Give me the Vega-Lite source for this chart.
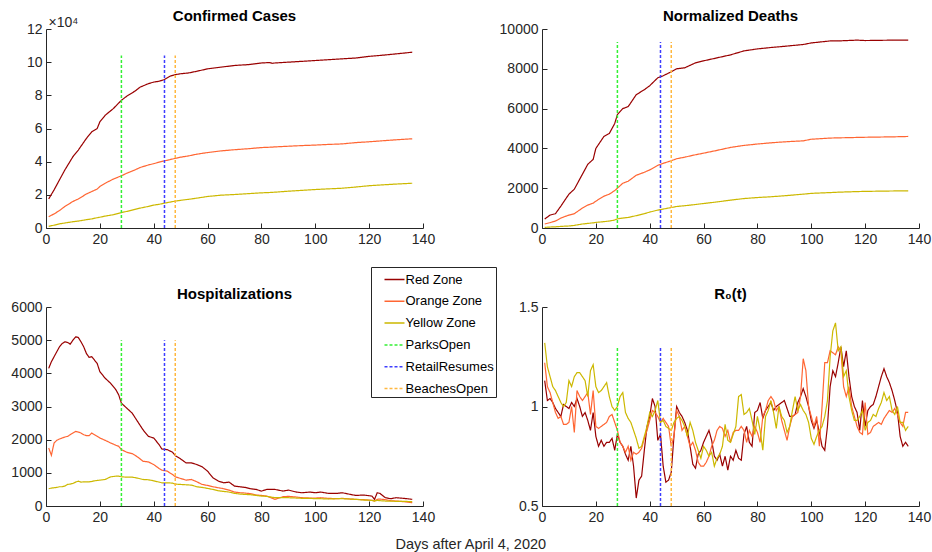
{
"$schema":"https://vega.github.io/schema/vega-lite/v6.json",
"padding":{"left":10,"right":2,"top":9,"bottom":0},
"config":{
 "font":"Liberation Sans",
 "view":{"stroke":null},
 "axis":{"grid":false,"domainColor":"#262626","tickColor":"#262626","labelColor":"#262626","labelFontSize":14,"tickSize":-5,"labelPadding":9,"domainWidth":1,"tickWidth":1,"labelOverlap":false,"labelFlush":false},
 "title":{"fontSize":15,"fontWeight":"bold","color":"#000000","offset":-2},
 "legend":{"orient":"none","legendX":325,"legendY":238,"strokeColor":"#262626","fillColor":"#ffffff","padding":1.5,"symbolOffset":11,"symbolType":"stroke","symbolSize":400,"symbolStrokeWidth":1.5,"labelFontSize":13,"labelColor":"#000000","labelOffset":0,"rowPadding":3.8,"cornerRadius":0}
},
"datasets":{
"cc":[
{"d":1,"Red Zone":17500,"Orange Zone":6800,"Yellow Zone":1000},
{"d":3,"Red Zone":23000,"Orange Zone":8500,"Yellow Zone":1700},
{"d":5,"Red Zone":29000,"Orange Zone":10500,"Yellow Zone":2500},
{"d":7,"Red Zone":35000,"Orange Zone":13000,"Yellow Zone":3000},
{"d":10,"Red Zone":43000,"Orange Zone":16000,"Yellow Zone":3800},
{"d":12,"Red Zone":47000,"Orange Zone":17500,"Yellow Zone":4200},
{"d":15,"Red Zone":54000,"Orange Zone":20500,"Yellow Zone":5000},
{"d":17,"Red Zone":58000,"Orange Zone":22000,"Yellow Zone":5500},
{"d":19,"Red Zone":60000,"Orange Zone":23500,"Yellow Zone":6200},
{"d":20,"Red Zone":64000,"Orange Zone":25000,"Yellow Zone":6500},
{"d":22,"Red Zone":68000,"Orange Zone":27000,"Yellow Zone":7200},
{"d":25,"Red Zone":72000,"Orange Zone":29500,"Yellow Zone":8000},
{"d":28,"Red Zone":77000,"Orange Zone":31500,"Yellow Zone":9300},
{"d":30,"Red Zone":79500,"Orange Zone":33000,"Yellow Zone":10000},
{"d":33,"Red Zone":82500,"Orange Zone":35000,"Yellow Zone":11200},
{"d":35,"Red Zone":85000,"Orange Zone":36500,"Yellow Zone":12000},
{"d":38,"Red Zone":87000,"Orange Zone":38000,"Yellow Zone":13000},
{"d":40,"Red Zone":88000,"Orange Zone":38800,"Yellow Zone":13800},
{"d":42,"Red Zone":88500,"Orange Zone":39700,"Yellow Zone":14300},
{"d":44,"Red Zone":89500,"Orange Zone":40500,"Yellow Zone":15000},
{"d":46,"Red Zone":91500,"Orange Zone":41200,"Yellow Zone":15600},
{"d":48,"Red Zone":92500,"Orange Zone":42000,"Yellow Zone":16200},
{"d":50,"Red Zone":93000,"Orange Zone":42700,"Yellow Zone":16700},
{"d":53,"Red Zone":93500,"Orange Zone":43500,"Yellow Zone":17300},
{"d":56,"Red Zone":94500,"Orange Zone":44500,"Yellow Zone":18000},
{"d":60,"Red Zone":96000,"Orange Zone":45500,"Yellow Zone":19000},
{"d":65,"Red Zone":97000,"Orange Zone":46500,"Yellow Zone":19800},
{"d":70,"Red Zone":98000,"Orange Zone":47200,"Yellow Zone":20200},
{"d":75,"Red Zone":98500,"Orange Zone":47800,"Yellow Zone":20700},
{"d":80,"Red Zone":99500,"Orange Zone":48500,"Yellow Zone":21200},
{"d":83,"Red Zone":99800,"Orange Zone":48700,"Yellow Zone":21400},
{"d":84,"Red Zone":99300,"Orange Zone":48800,"Yellow Zone":21500},
{"d":85,"Red Zone":99500,"Orange Zone":48900,"Yellow Zone":21600},
{"d":90,"Red Zone":100000,"Orange Zone":49300,"Yellow Zone":22200},
{"d":95,"Red Zone":100500,"Orange Zone":49700,"Yellow Zone":22700},
{"d":100,"Red Zone":101000,"Orange Zone":50000,"Yellow Zone":23200},
{"d":105,"Red Zone":101500,"Orange Zone":50400,"Yellow Zone":23600},
{"d":110,"Red Zone":102000,"Orange Zone":50700,"Yellow Zone":24000},
{"d":115,"Red Zone":102500,"Orange Zone":51500,"Yellow Zone":24700},
{"d":120,"Red Zone":103500,"Orange Zone":52000,"Yellow Zone":25500},
{"d":125,"Red Zone":104200,"Orange Zone":52600,"Yellow Zone":26000},
{"d":130,"Red Zone":105000,"Orange Zone":53200,"Yellow Zone":26500},
{"d":136,"Red Zone":106000,"Orange Zone":53800,"Yellow Zone":27000}
],
"nd":[
{"d":1,"Red Zone":450,"Orange Zone":200,"Yellow Zone":30},
{"d":3,"Red Zone":650,"Orange Zone":270,"Yellow Zone":50},
{"d":5,"Red Zone":720,"Orange Zone":350,"Yellow Zone":60},
{"d":7,"Red Zone":1100,"Orange Zone":500,"Yellow Zone":80},
{"d":10,"Red Zone":1700,"Orange Zone":650,"Yellow Zone":100},
{"d":12,"Red Zone":1950,"Orange Zone":720,"Yellow Zone":130},
{"d":15,"Red Zone":2700,"Orange Zone":1000,"Yellow Zone":200},
{"d":17,"Red Zone":3200,"Orange Zone":1150,"Yellow Zone":230},
{"d":19,"Red Zone":3450,"Orange Zone":1250,"Yellow Zone":260},
{"d":20,"Red Zone":4000,"Orange Zone":1350,"Yellow Zone":280},
{"d":23,"Red Zone":4600,"Orange Zone":1600,"Yellow Zone":320},
{"d":25,"Red Zone":4750,"Orange Zone":1700,"Yellow Zone":350},
{"d":27,"Red Zone":5250,"Orange Zone":1880,"Yellow Zone":400},
{"d":28,"Red Zone":5700,"Orange Zone":2000,"Yellow Zone":460},
{"d":30,"Red Zone":6000,"Orange Zone":2250,"Yellow Zone":500},
{"d":32,"Red Zone":6100,"Orange Zone":2350,"Yellow Zone":530},
{"d":35,"Red Zone":6700,"Orange Zone":2650,"Yellow Zone":620},
{"d":38,"Red Zone":6950,"Orange Zone":2800,"Yellow Zone":720},
{"d":40,"Red Zone":7150,"Orange Zone":2920,"Yellow Zone":800},
{"d":43,"Red Zone":7550,"Orange Zone":3150,"Yellow Zone":900},
{"d":45,"Red Zone":7650,"Orange Zone":3250,"Yellow Zone":950},
{"d":48,"Red Zone":7850,"Orange Zone":3380,"Yellow Zone":1030},
{"d":50,"Red Zone":8000,"Orange Zone":3480,"Yellow Zone":1080},
{"d":53,"Red Zone":8050,"Orange Zone":3560,"Yellow Zone":1120},
{"d":57,"Red Zone":8300,"Orange Zone":3680,"Yellow Zone":1180},
{"d":60,"Red Zone":8400,"Orange Zone":3760,"Yellow Zone":1230},
{"d":65,"Red Zone":8550,"Orange Zone":3900,"Yellow Zone":1310},
{"d":70,"Red Zone":8700,"Orange Zone":4050,"Yellow Zone":1400},
{"d":75,"Red Zone":8900,"Orange Zone":4150,"Yellow Zone":1480},
{"d":80,"Red Zone":9000,"Orange Zone":4220,"Yellow Zone":1530},
{"d":85,"Red Zone":9070,"Orange Zone":4280,"Yellow Zone":1570},
{"d":90,"Red Zone":9130,"Orange Zone":4330,"Yellow Zone":1620},
{"d":97,"Red Zone":9220,"Orange Zone":4380,"Yellow Zone":1700},
{"d":100,"Red Zone":9300,"Orange Zone":4460,"Yellow Zone":1740},
{"d":107,"Red Zone":9400,"Orange Zone":4520,"Yellow Zone":1780},
{"d":110,"Red Zone":9400,"Orange Zone":4530,"Yellow Zone":1800},
{"d":117,"Red Zone":9440,"Orange Zone":4550,"Yellow Zone":1830},
{"d":120,"Red Zone":9420,"Orange Zone":4560,"Yellow Zone":1840},
{"d":130,"Red Zone":9440,"Orange Zone":4580,"Yellow Zone":1860},
{"d":136,"Red Zone":9440,"Orange Zone":4600,"Yellow Zone":1870}
],
"hp":[
{"d":1,"Red Zone":4150,"Orange Zone":1750,"Yellow Zone":520},
{"d":2,"Red Zone":4350,"Orange Zone":1530,"Yellow Zone":540},
{"d":3,"Red Zone":4500,"Orange Zone":1900,"Yellow Zone":550},
{"d":4,"Red Zone":4650,"Orange Zone":1980,"Yellow Zone":560},
{"d":5,"Red Zone":4800,"Orange Zone":2020,"Yellow Zone":580},
{"d":6,"Red Zone":4900,"Orange Zone":2050,"Yellow Zone":580},
{"d":7,"Red Zone":4950,"Orange Zone":2080,"Yellow Zone":600},
{"d":8,"Red Zone":4930,"Orange Zone":2100,"Yellow Zone":650},
{"d":9,"Red Zone":4880,"Orange Zone":2150,"Yellow Zone":660},
{"d":10,"Red Zone":5000,"Orange Zone":2200,"Yellow Zone":680},
{"d":11,"Red Zone":5100,"Orange Zone":2250,"Yellow Zone":720},
{"d":12,"Red Zone":5080,"Orange Zone":2230,"Yellow Zone":750},
{"d":13,"Red Zone":4950,"Orange Zone":2200,"Yellow Zone":720},
{"d":14,"Red Zone":4800,"Orange Zone":2150,"Yellow Zone":730},
{"d":15,"Red Zone":4600,"Orange Zone":2120,"Yellow Zone":730},
{"d":16,"Red Zone":4480,"Orange Zone":2120,"Yellow Zone":730},
{"d":17,"Red Zone":4500,"Orange Zone":2200,"Yellow Zone":740},
{"d":18,"Red Zone":4400,"Orange Zone":2150,"Yellow Zone":760},
{"d":19,"Red Zone":4300,"Orange Zone":2100,"Yellow Zone":770},
{"d":20,"Red Zone":4050,"Orange Zone":2050,"Yellow Zone":780},
{"d":22,"Red Zone":3850,"Orange Zone":1980,"Yellow Zone":800},
{"d":24,"Red Zone":3700,"Orange Zone":1900,"Yellow Zone":880},
{"d":26,"Red Zone":3500,"Orange Zone":1830,"Yellow Zone":900},
{"d":27,"Red Zone":3350,"Orange Zone":1800,"Yellow Zone":900},
{"d":28,"Red Zone":3100,"Orange Zone":1700,"Yellow Zone":880},
{"d":30,"Red Zone":2950,"Orange Zone":1620,"Yellow Zone":870},
{"d":32,"Red Zone":2800,"Orange Zone":1580,"Yellow Zone":870},
{"d":34,"Red Zone":2550,"Orange Zone":1480,"Yellow Zone":840},
{"d":36,"Red Zone":2300,"Orange Zone":1350,"Yellow Zone":800},
{"d":38,"Red Zone":2100,"Orange Zone":1330,"Yellow Zone":790},
{"d":40,"Red Zone":2050,"Orange Zone":1250,"Yellow Zone":760},
{"d":42,"Red Zone":1850,"Orange Zone":1130,"Yellow Zone":720},
{"d":43,"Red Zone":1720,"Orange Zone":1080,"Yellow Zone":700},
{"d":45,"Red Zone":1700,"Orange Zone":1050,"Yellow Zone":700},
{"d":47,"Red Zone":1620,"Orange Zone":950,"Yellow Zone":690},
{"d":48,"Red Zone":1520,"Orange Zone":880,"Yellow Zone":660},
{"d":50,"Red Zone":1420,"Orange Zone":830,"Yellow Zone":650},
{"d":52,"Red Zone":1300,"Orange Zone":780,"Yellow Zone":640},
{"d":54,"Red Zone":1300,"Orange Zone":800,"Yellow Zone":630},
{"d":56,"Red Zone":1250,"Orange Zone":730,"Yellow Zone":580},
{"d":58,"Red Zone":1180,"Orange Zone":650,"Yellow Zone":560},
{"d":60,"Red Zone":1050,"Orange Zone":620,"Yellow Zone":530},
{"d":62,"Red Zone":850,"Orange Zone":580,"Yellow Zone":500},
{"d":64,"Red Zone":750,"Orange Zone":550,"Yellow Zone":460},
{"d":66,"Red Zone":700,"Orange Zone":520,"Yellow Zone":440},
{"d":68,"Red Zone":720,"Orange Zone":480,"Yellow Zone":420},
{"d":70,"Red Zone":600,"Orange Zone":420,"Yellow Zone":380},
{"d":72,"Red Zone":580,"Orange Zone":400,"Yellow Zone":360},
{"d":74,"Red Zone":560,"Orange Zone":390,"Yellow Zone":350},
{"d":76,"Red Zone":520,"Orange Zone":370,"Yellow Zone":340},
{"d":78,"Red Zone":500,"Orange Zone":330,"Yellow Zone":320},
{"d":80,"Red Zone":450,"Orange Zone":320,"Yellow Zone":300},
{"d":82,"Red Zone":500,"Orange Zone":300,"Yellow Zone":290},
{"d":85,"Red Zone":500,"Orange Zone":200,"Yellow Zone":250},
{"d":88,"Red Zone":450,"Orange Zone":280,"Yellow Zone":250},
{"d":90,"Red Zone":480,"Orange Zone":290,"Yellow Zone":250},
{"d":93,"Red Zone":420,"Orange Zone":270,"Yellow Zone":240},
{"d":95,"Red Zone":400,"Orange Zone":250,"Yellow Zone":230},
{"d":98,"Red Zone":420,"Orange Zone":240,"Yellow Zone":230},
{"d":100,"Red Zone":400,"Orange Zone":240,"Yellow Zone":220},
{"d":102,"Red Zone":420,"Orange Zone":250,"Yellow Zone":220},
{"d":105,"Red Zone":380,"Orange Zone":230,"Yellow Zone":210},
{"d":108,"Red Zone":380,"Orange Zone":220,"Yellow Zone":220},
{"d":110,"Red Zone":400,"Orange Zone":230,"Yellow Zone":220},
{"d":113,"Red Zone":350,"Orange Zone":210,"Yellow Zone":210},
{"d":115,"Red Zone":320,"Orange Zone":200,"Yellow Zone":200},
{"d":118,"Red Zone":330,"Orange Zone":190,"Yellow Zone":180},
{"d":121,"Red Zone":300,"Orange Zone":170,"Yellow Zone":170},
{"d":122,"Red Zone":200,"Orange Zone":150,"Yellow Zone":150},
{"d":123,"Red Zone":400,"Orange Zone":200,"Yellow Zone":170},
{"d":124,"Red Zone":380,"Orange Zone":210,"Yellow Zone":160},
{"d":126,"Red Zone":250,"Orange Zone":190,"Yellow Zone":150},
{"d":128,"Red Zone":220,"Orange Zone":160,"Yellow Zone":150},
{"d":130,"Red Zone":250,"Orange Zone":150,"Yellow Zone":140},
{"d":133,"Red Zone":230,"Orange Zone":130,"Yellow Zone":140},
{"d":136,"Red Zone":200,"Orange Zone":100,"Yellow Zone":130}
],
"r0":[
{"d":1,"Red Zone":1.13,"Orange Zone":1.22,"Yellow Zone":1.32},
{"d":2,"Red Zone":1.03,"Orange Zone":1.10,"Yellow Zone":1.20},
{"d":3,"Red Zone":1.04,"Orange Zone":1.07,"Yellow Zone":1.15},
{"d":4,"Red Zone":1.02,"Orange Zone":1.02,"Yellow Zone":1.10},
{"d":5,"Red Zone":0.99,"Orange Zone":0.97,"Yellow Zone":1.08},
{"d":6,"Red Zone":0.97,"Orange Zone":0.94,"Yellow Zone":1.05},
{"d":7,"Red Zone":0.95,"Orange Zone":0.95,"Yellow Zone":1.02},
{"d":8,"Red Zone":1.01,"Orange Zone":0.91,"Yellow Zone":1.00},
{"d":9,"Red Zone":1.00,"Orange Zone":0.91,"Yellow Zone":1.02},
{"d":10,"Red Zone":0.99,"Orange Zone":0.92,"Yellow Zone":1.13},
{"d":11,"Red Zone":1.02,"Orange Zone":1.00,"Yellow Zone":1.10},
{"d":12,"Red Zone":1.00,"Orange Zone":0.87,"Yellow Zone":1.15},
{"d":13,"Red Zone":1.04,"Orange Zone":1.08,"Yellow Zone":1.17},
{"d":14,"Red Zone":1.00,"Orange Zone":1.05,"Yellow Zone":1.17},
{"d":15,"Red Zone":0.95,"Orange Zone":1.03,"Yellow Zone":1.15},
{"d":16,"Red Zone":0.97,"Orange Zone":1.05,"Yellow Zone":1.13},
{"d":17,"Red Zone":0.93,"Orange Zone":1.07,"Yellow Zone":1.05},
{"d":18,"Red Zone":0.88,"Orange Zone":0.96,"Yellow Zone":1.18},
{"d":19,"Red Zone":0.97,"Orange Zone":1.08,"Yellow Zone":1.21},
{"d":20,"Red Zone":0.85,"Orange Zone":0.90,"Yellow Zone":1.10},
{"d":21,"Red Zone":0.80,"Orange Zone":0.89,"Yellow Zone":1.07},
{"d":22,"Red Zone":0.83,"Orange Zone":0.90,"Yellow Zone":1.08},
{"d":23,"Red Zone":0.80,"Orange Zone":0.91,"Yellow Zone":1.10},
{"d":24,"Red Zone":0.82,"Orange Zone":0.92,"Yellow Zone":1.12},
{"d":25,"Red Zone":0.82,"Orange Zone":0.95,"Yellow Zone":1.05},
{"d":26,"Red Zone":0.84,"Orange Zone":0.96,"Yellow Zone":1.00},
{"d":27,"Red Zone":0.78,"Orange Zone":0.92,"Yellow Zone":0.98},
{"d":28,"Red Zone":0.86,"Orange Zone":0.88,"Yellow Zone":1.00},
{"d":29,"Red Zone":0.82,"Orange Zone":0.82,"Yellow Zone":1.05},
{"d":30,"Red Zone":0.80,"Orange Zone":0.80,"Yellow Zone":1.07},
{"d":31,"Red Zone":0.76,"Orange Zone":0.77,"Yellow Zone":0.97},
{"d":32,"Red Zone":0.73,"Orange Zone":0.80,"Yellow Zone":0.94},
{"d":33,"Red Zone":0.80,"Orange Zone":0.73,"Yellow Zone":0.92},
{"d":34,"Red Zone":0.70,"Orange Zone":0.77,"Yellow Zone":0.88},
{"d":35,"Red Zone":0.54,"Orange Zone":0.76,"Yellow Zone":0.84},
{"d":36,"Red Zone":0.63,"Orange Zone":0.77,"Yellow Zone":0.79},
{"d":37,"Red Zone":0.65,"Orange Zone":0.79,"Yellow Zone":0.80},
{"d":38,"Red Zone":0.78,"Orange Zone":0.84,"Yellow Zone":0.85},
{"d":39,"Red Zone":0.90,"Orange Zone":0.88,"Yellow Zone":0.90},
{"d":40,"Red Zone":0.95,"Orange Zone":0.93,"Yellow Zone":0.97},
{"d":41,"Red Zone":1.04,"Orange Zone":0.98,"Yellow Zone":0.95},
{"d":42,"Red Zone":1.00,"Orange Zone":0.97,"Yellow Zone":0.98},
{"d":43,"Red Zone":0.83,"Orange Zone":0.95,"Yellow Zone":1.03},
{"d":44,"Red Zone":0.86,"Orange Zone":0.92,"Yellow Zone":0.92},
{"d":45,"Red Zone":0.70,"Orange Zone":0.94,"Yellow Zone":0.93},
{"d":46,"Red Zone":0.62,"Orange Zone":0.92,"Yellow Zone":0.90},
{"d":47,"Red Zone":0.63,"Orange Zone":0.90,"Yellow Zone":0.89},
{"d":48,"Red Zone":0.67,"Orange Zone":0.80,"Yellow Zone":0.88},
{"d":49,"Red Zone":0.85,"Orange Zone":0.85,"Yellow Zone":0.92},
{"d":50,"Red Zone":1.00,"Orange Zone":0.98,"Yellow Zone":0.94},
{"d":51,"Red Zone":0.97,"Orange Zone":0.95,"Yellow Zone":0.95},
{"d":52,"Red Zone":0.95,"Orange Zone":0.88,"Yellow Zone":0.93},
{"d":53,"Red Zone":0.92,"Orange Zone":0.90,"Yellow Zone":0.90},
{"d":54,"Red Zone":0.88,"Orange Zone":0.85,"Yellow Zone":0.85},
{"d":55,"Red Zone":0.80,"Orange Zone":0.80,"Yellow Zone":0.92},
{"d":56,"Red Zone":0.71,"Orange Zone":0.82,"Yellow Zone":0.88},
{"d":57,"Red Zone":0.69,"Orange Zone":0.78,"Yellow Zone":0.82},
{"d":58,"Red Zone":0.76,"Orange Zone":0.72,"Yellow Zone":0.78},
{"d":59,"Red Zone":0.78,"Orange Zone":0.70,"Yellow Zone":0.74},
{"d":60,"Red Zone":0.82,"Orange Zone":0.70,"Yellow Zone":0.80},
{"d":61,"Red Zone":0.85,"Orange Zone":0.72,"Yellow Zone":0.78},
{"d":62,"Red Zone":0.88,"Orange Zone":0.75,"Yellow Zone":0.75},
{"d":63,"Red Zone":0.83,"Orange Zone":0.80,"Yellow Zone":0.77},
{"d":64,"Red Zone":0.75,"Orange Zone":0.83,"Yellow Zone":0.70},
{"d":65,"Red Zone":0.73,"Orange Zone":0.88,"Yellow Zone":0.74},
{"d":66,"Red Zone":0.76,"Orange Zone":0.90,"Yellow Zone":0.76},
{"d":67,"Red Zone":0.70,"Orange Zone":0.89,"Yellow Zone":0.80},
{"d":68,"Red Zone":0.75,"Orange Zone":0.85,"Yellow Zone":0.91},
{"d":69,"Red Zone":0.68,"Orange Zone":0.88,"Yellow Zone":0.83},
{"d":70,"Red Zone":0.75,"Orange Zone":0.82,"Yellow Zone":0.82},
{"d":71,"Red Zone":0.73,"Orange Zone":0.87,"Yellow Zone":0.86},
{"d":72,"Red Zone":0.78,"Orange Zone":0.88,"Yellow Zone":0.90},
{"d":73,"Red Zone":0.74,"Orange Zone":0.88,"Yellow Zone":1.05},
{"d":74,"Red Zone":0.73,"Orange Zone":0.90,"Yellow Zone":1.06},
{"d":75,"Red Zone":0.86,"Orange Zone":0.88,"Yellow Zone":0.96},
{"d":76,"Red Zone":0.90,"Orange Zone":0.82,"Yellow Zone":0.97},
{"d":77,"Red Zone":0.82,"Orange Zone":0.88,"Yellow Zone":0.99},
{"d":78,"Red Zone":0.80,"Orange Zone":0.85,"Yellow Zone":0.93},
{"d":79,"Red Zone":0.97,"Orange Zone":0.90,"Yellow Zone":0.86},
{"d":80,"Red Zone":0.98,"Orange Zone":0.87,"Yellow Zone":0.95},
{"d":81,"Red Zone":1.02,"Orange Zone":0.82,"Yellow Zone":0.88},
{"d":82,"Red Zone":0.94,"Orange Zone":0.95,"Yellow Zone":0.78},
{"d":83,"Red Zone":0.98,"Orange Zone":0.98,"Yellow Zone":0.95},
{"d":84,"Red Zone":1.00,"Orange Zone":1.03,"Yellow Zone":0.98},
{"d":85,"Red Zone":1.02,"Orange Zone":1.05,"Yellow Zone":1.03},
{"d":86,"Red Zone":0.98,"Orange Zone":1.03,"Yellow Zone":0.97},
{"d":87,"Red Zone":1.00,"Orange Zone":0.98,"Yellow Zone":0.89},
{"d":88,"Red Zone":1.01,"Orange Zone":1.00,"Yellow Zone":1.00},
{"d":89,"Red Zone":1.02,"Orange Zone":0.93,"Yellow Zone":0.95},
{"d":90,"Red Zone":1.03,"Orange Zone":0.88,"Yellow Zone":0.93},
{"d":91,"Red Zone":0.99,"Orange Zone":0.83,"Yellow Zone":0.87},
{"d":92,"Red Zone":0.95,"Orange Zone":0.90,"Yellow Zone":0.90},
{"d":93,"Red Zone":0.95,"Orange Zone":0.95,"Yellow Zone":0.98},
{"d":94,"Red Zone":0.96,"Orange Zone":0.96,"Yellow Zone":1.05},
{"d":95,"Red Zone":1.02,"Orange Zone":0.97,"Yellow Zone":0.98},
{"d":96,"Red Zone":1.05,"Orange Zone":1.05,"Yellow Zone":1.01},
{"d":97,"Red Zone":1.09,"Orange Zone":1.24,"Yellow Zone":0.98},
{"d":98,"Red Zone":1.05,"Orange Zone":1.18,"Yellow Zone":0.96},
{"d":99,"Red Zone":1.00,"Orange Zone":1.00,"Yellow Zone":0.92},
{"d":100,"Red Zone":0.93,"Orange Zone":0.95,"Yellow Zone":0.84},
{"d":101,"Red Zone":0.89,"Orange Zone":0.90,"Yellow Zone":0.81},
{"d":102,"Red Zone":0.93,"Orange Zone":0.95,"Yellow Zone":0.85},
{"d":103,"Red Zone":0.87,"Orange Zone":0.80,"Yellow Zone":0.88},
{"d":104,"Red Zone":0.80,"Orange Zone":1.00,"Yellow Zone":0.90},
{"d":105,"Red Zone":0.78,"Orange Zone":1.22,"Yellow Zone":0.95},
{"d":106,"Red Zone":0.90,"Orange Zone":1.22,"Yellow Zone":1.03},
{"d":107,"Red Zone":1.10,"Orange Zone":1.28,"Yellow Zone":1.25},
{"d":108,"Red Zone":1.18,"Orange Zone":1.27,"Yellow Zone":1.38},
{"d":109,"Red Zone":1.15,"Orange Zone":1.26,"Yellow Zone":1.42},
{"d":110,"Red Zone":1.22,"Orange Zone":1.30,"Yellow Zone":1.28},
{"d":111,"Red Zone":1.30,"Orange Zone":1.28,"Yellow Zone":1.30},
{"d":112,"Red Zone":1.20,"Orange Zone":1.10,"Yellow Zone":1.15},
{"d":113,"Red Zone":1.28,"Orange Zone":1.05,"Yellow Zone":1.18},
{"d":114,"Red Zone":1.15,"Orange Zone":1.10,"Yellow Zone":1.05},
{"d":115,"Red Zone":1.05,"Orange Zone":1.00,"Yellow Zone":0.98},
{"d":116,"Red Zone":1.00,"Orange Zone":0.95,"Yellow Zone":0.93},
{"d":117,"Red Zone":0.97,"Orange Zone":0.90,"Yellow Zone":0.93},
{"d":118,"Red Zone":0.88,"Orange Zone":0.87,"Yellow Zone":0.95},
{"d":119,"Red Zone":1.03,"Orange Zone":0.86,"Yellow Zone":0.98},
{"d":120,"Red Zone":0.90,"Orange Zone":1.02,"Yellow Zone":0.88},
{"d":121,"Red Zone":0.98,"Orange Zone":0.86,"Yellow Zone":0.92},
{"d":122,"Red Zone":1.00,"Orange Zone":0.87,"Yellow Zone":0.93},
{"d":123,"Red Zone":1.01,"Orange Zone":0.90,"Yellow Zone":0.96},
{"d":124,"Red Zone":1.05,"Orange Zone":0.91,"Yellow Zone":0.95},
{"d":125,"Red Zone":1.10,"Orange Zone":0.92,"Yellow Zone":0.99},
{"d":126,"Red Zone":1.15,"Orange Zone":0.91,"Yellow Zone":1.02},
{"d":127,"Red Zone":1.19,"Orange Zone":0.94,"Yellow Zone":1.07},
{"d":128,"Red Zone":1.15,"Orange Zone":0.96,"Yellow Zone":1.03},
{"d":129,"Red Zone":1.12,"Orange Zone":0.98,"Yellow Zone":1.05},
{"d":130,"Red Zone":1.08,"Orange Zone":0.97,"Yellow Zone":0.98},
{"d":131,"Red Zone":1.03,"Orange Zone":0.99,"Yellow Zone":0.96},
{"d":132,"Red Zone":0.97,"Orange Zone":0.96,"Yellow Zone":1.00},
{"d":133,"Red Zone":0.85,"Orange Zone":0.92,"Yellow Zone":0.92},
{"d":134,"Red Zone":0.80,"Orange Zone":0.90,"Yellow Zone":0.92},
{"d":135,"Red Zone":0.82,"Orange Zone":0.97,"Yellow Zone":0.88},
{"d":136,"Red Zone":0.80,"Orange Zone":0.97,"Yellow Zone":0.90}
],
"ev":[
{"p":"cc","s":"ParksOpen","x":28,"lo":0,"hi":104000},
{"p":"cc","s":"RetailResumes","x":44,"lo":0,"hi":104000},
{"p":"cc","s":"BeachesOpen","x":48,"lo":0,"hi":104000},
{"p":"nd","s":"ParksOpen","x":28,"lo":0,"hi":9350},
{"p":"nd","s":"RetailResumes","x":44,"lo":0,"hi":9350},
{"p":"nd","s":"BeachesOpen","x":48,"lo":0,"hi":9350},
{"p":"hp","s":"ParksOpen","x":28,"lo":0,"hi":5000},
{"p":"hp","s":"RetailResumes","x":44,"lo":0,"hi":5000},
{"p":"hp","s":"BeachesOpen","x":48,"lo":0,"hi":5000},
{"p":"r0","s":"ParksOpen","x":28,"lo":0.5,"hi":1.3},
{"p":"r0","s":"RetailResumes","x":44,"lo":0.5,"hi":1.3},
{"p":"r0","s":"BeachesOpen","x":48,"lo":0.5,"hi":1.3}
]
},
"title":{"text":"Days after April 4, 2020","orient":"bottom","anchor":"middle","fontSize":14.5,"fontWeight":"normal","color":"#262626","offset":14},
"columns":2,
"spacing":{"row":41,"column":64},
"concat":[
{"width":377,"height":199,"title":{"text":"Confirmed Cases","offset":-9},
 "layer":[
  {"data":{"name":"cc"},"transform":[{"fold":["Red Zone","Orange Zone","Yellow Zone"],"as":["s","v"]}],
   "mark":{"type":"line","strokeWidth":1.2},
   "encoding":{
    "x":{"field":"d","type":"quantitative","title":null,"scale":{"domain":[0,140],"nice":false},"axis":{"values":[0,20,40,60,80,100,120,140],"tickCount":20,"labelOverlap":false,"labelFlush":false}},
    "y":{"field":"v","type":"quantitative","scale":{"domain":[0,120000],"nice":false},"axis":{"values":[0,20000,40000,60000,80000,100000,120000],"tickCount":20,"labelOverlap":false,"labelExpr":"'' + datum.value/10000","title":"×10⁴","titleAngle":0,"titleAlign":"left","titleBaseline":"alphabetic","titleX":2,"titleY":-3,"titleFontSize":14,"titleFontWeight":"normal","titleColor":"#262626"}},
    "color":{"field":"s","type":"nominal","title":null,"scale":{"domain":["Red Zone","Orange Zone","Yellow Zone","ParksOpen","RetailResumes","BeachesOpen"],"range":["#990000","#ff6633","#ccb800","#33f033","#3d3dff","#ffb840"]}},
    "strokeDash":{"field":"s","type":"nominal","title":null,"scale":{"domain":["Red Zone","Orange Zone","Yellow Zone","ParksOpen","RetailResumes","BeachesOpen"],"range":[[1,0],[1,0],[1,0],[3,2],[3,2],[3,2]]}}
   }},
  {"data":{"name":"ev"},"transform":[{"filter":"datum.p == 'cc'"}],
   "mark":{"type":"rule","strokeWidth":1.5},
   "encoding":{
    "x":{"field":"x","type":"quantitative"},
    "y":{"field":"lo","type":"quantitative"},
    "y2":{"field":"hi"},
    "color":{"field":"s","type":"nominal","title":null},
    "strokeDash":{"field":"s","type":"nominal","title":null}
   }}
 ]},
{"width":377,"height":199,"title":"Normalized Deaths",
 "layer":[
  {"data":{"name":"nd"},"transform":[{"fold":["Red Zone","Orange Zone","Yellow Zone"],"as":["s","v"]}],
   "mark":{"type":"line","strokeWidth":1.2},
   "encoding":{
    "x":{"field":"d","type":"quantitative","title":null,"scale":{"domain":[0,140],"nice":false},"axis":{"values":[0,20,40,60,80,100,120,140],"tickCount":20,"labelOverlap":false,"labelFlush":false}},
    "y":{"field":"v","type":"quantitative","title":null,"scale":{"domain":[0,10000],"nice":false},"axis":{"values":[0,2000,4000,6000,8000,10000],"tickCount":20,"labelOverlap":false,"labelExpr":"'' + datum.value"}},
    "color":{"field":"s","type":"nominal","title":null,"scale":{"domain":["Red Zone","Orange Zone","Yellow Zone","ParksOpen","RetailResumes","BeachesOpen"],"range":["#990000","#ff6633","#ccb800","#33f033","#3d3dff","#ffb840"]}},
    "strokeDash":{"field":"s","type":"nominal","title":null,"scale":{"domain":["Red Zone","Orange Zone","Yellow Zone","ParksOpen","RetailResumes","BeachesOpen"],"range":[[1,0],[1,0],[1,0],[3,2],[3,2],[3,2]]}}
   }},
  {"data":{"name":"ev"},"transform":[{"filter":"datum.p == 'nd'"}],
   "mark":{"type":"rule","strokeWidth":1.5},
   "encoding":{
    "x":{"field":"x","type":"quantitative"},
    "y":{"field":"lo","type":"quantitative"},
    "y2":{"field":"hi"},
    "color":{"field":"s","type":"nominal","title":null},
    "strokeDash":{"field":"s","type":"nominal","title":null}
   }}
 ]},
{"width":377,"height":199,"title":"Hospitalizations",
 "layer":[
  {"data":{"name":"hp"},"transform":[{"fold":["Red Zone","Orange Zone","Yellow Zone"],"as":["s","v"]}],
   "mark":{"type":"line","strokeWidth":1.2},
   "encoding":{
    "x":{"field":"d","type":"quantitative","title":null,"scale":{"domain":[0,140],"nice":false},"axis":{"values":[0,20,40,60,80,100,120,140],"tickCount":20,"labelOverlap":false,"labelFlush":false}},
    "y":{"field":"v","type":"quantitative","title":null,"scale":{"domain":[0,6000],"nice":false},"axis":{"values":[0,1000,2000,3000,4000,5000,6000],"tickCount":20,"labelOverlap":false,"labelExpr":"'' + datum.value"}},
    "color":{"field":"s","type":"nominal","title":null,"scale":{"domain":["Red Zone","Orange Zone","Yellow Zone","ParksOpen","RetailResumes","BeachesOpen"],"range":["#990000","#ff6633","#ccb800","#33f033","#3d3dff","#ffb840"]}},
    "strokeDash":{"field":"s","type":"nominal","title":null,"scale":{"domain":["Red Zone","Orange Zone","Yellow Zone","ParksOpen","RetailResumes","BeachesOpen"],"range":[[1,0],[1,0],[1,0],[3,2],[3,2],[3,2]]}}
   }},
  {"data":{"name":"ev"},"transform":[{"filter":"datum.p == 'hp'"}],
   "mark":{"type":"rule","strokeWidth":1.5},
   "encoding":{
    "x":{"field":"x","type":"quantitative"},
    "y":{"field":"lo","type":"quantitative"},
    "y2":{"field":"hi"},
    "color":{"field":"s","type":"nominal","title":null},
    "strokeDash":{"field":"s","type":"nominal","title":null}
   }}
 ]},
{"width":377,"height":199,"title":"R₀(t)",
 "layer":[
  {"data":{"name":"r0"},"transform":[{"fold":["Red Zone","Orange Zone","Yellow Zone"],"as":["s","v"]}],
   "mark":{"type":"line","strokeWidth":1.2},
   "encoding":{
    "x":{"field":"d","type":"quantitative","title":null,"scale":{"domain":[0,140],"nice":false},"axis":{"values":[0,20,40,60,80,100,120,140],"tickCount":20,"labelOverlap":false,"labelFlush":false}},
    "y":{"field":"v","type":"quantitative","title":null,"scale":{"domain":[0.5,1.5],"nice":false,"zero":false},"axis":{"values":[0.5,1,1.5],"tickCount":20,"labelOverlap":false,"labelExpr":"'' + datum.value"}},
    "color":{"field":"s","type":"nominal","title":null,"scale":{"domain":["Red Zone","Orange Zone","Yellow Zone","ParksOpen","RetailResumes","BeachesOpen"],"range":["#990000","#ff6633","#ccb800","#33f033","#3d3dff","#ffb840"]}},
    "strokeDash":{"field":"s","type":"nominal","title":null,"scale":{"domain":["Red Zone","Orange Zone","Yellow Zone","ParksOpen","RetailResumes","BeachesOpen"],"range":[[1,0],[1,0],[1,0],[3,2],[3,2],[3,2]]}}
   }},
  {"data":{"name":"ev"},"transform":[{"filter":"datum.p == 'r0'"}],
   "mark":{"type":"rule","strokeWidth":1.5},
   "encoding":{
    "x":{"field":"x","type":"quantitative"},
    "y":{"field":"lo","type":"quantitative"},
    "y2":{"field":"hi"},
    "color":{"field":"s","type":"nominal","title":null},
    "strokeDash":{"field":"s","type":"nominal","title":null}
   }}
 ]}
]
}
